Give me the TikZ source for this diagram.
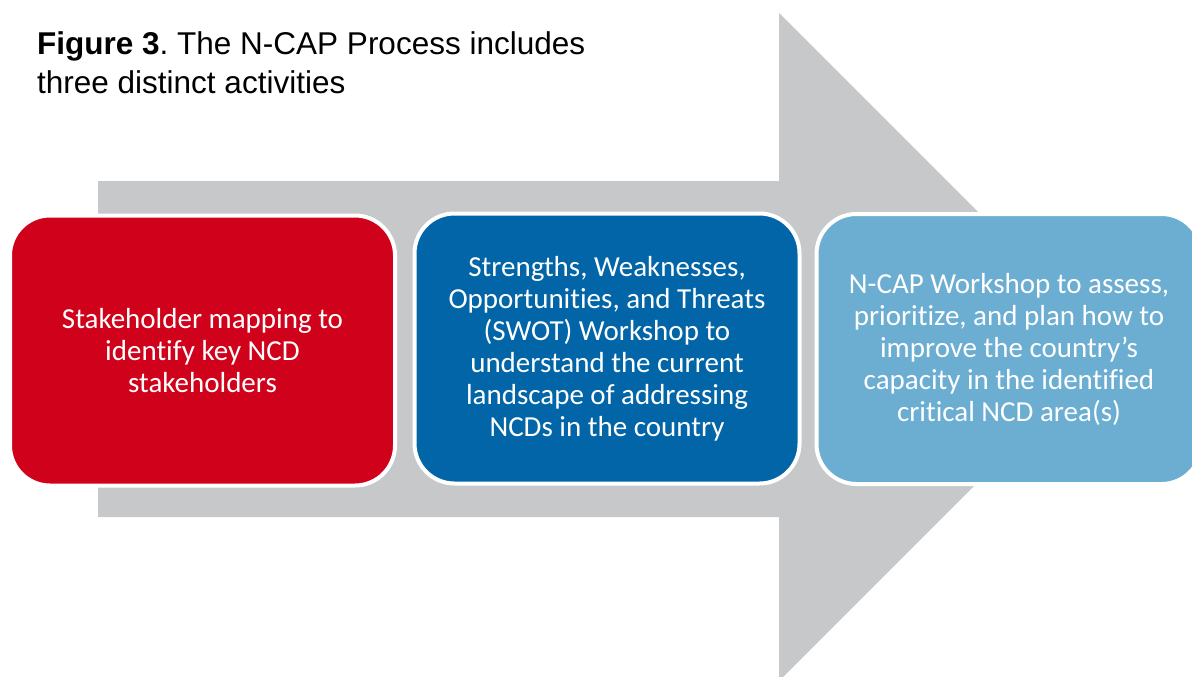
\documentclass[tikz,border=0pt]{standalone}
\usepackage{fontspec}
\setmainfont{Liberation Sans}
\newfontfamily\boxfont[Ligatures=CommonOff]{Carlito}
\definecolor{arrowgrey}{RGB}{199,200,202}
\definecolor{stepred}{RGB}{208,2,27}
\definecolor{stepblue}{RGB}{2,101,167}
\definecolor{steplight}{RGB}{107,174,210}
\frenchspacing
\begin{document}
\begin{tikzpicture}[x=1pt,y=-1pt,
  stagebox/.style={draw=white, line width=4pt, rounded corners=40pt,
    minimum width=385pt, minimum height=270pt, inner sep=0pt,
    align=center, text=white,
    font=\boxfont\fontsize{29}{32}\selectfont},
  titletext/.style={anchor=base west, inner sep=0pt,
    font=\fontsize{31.5}{37}\selectfont}]
  \useasboundingbox (0,0) rectangle (1192,677);
  \begin{scope}
    \clip (0,0) rectangle (1192,677);
    % big grey process arrow behind the three stages
    \fill[arrowgrey] (98,181) -- (779,181) -- (779,13) -- (1113,347)
      -- (779,681) -- (779,517) -- (98,517) -- cycle;
    % the three stages
    \node[stagebox, fill=stepred] (mapping) at (202.5,350.5)
      {Stakeholder mapping to\\identify key NCD\\stakeholders};
    \node[stagebox, fill=stepblue] (swot) at (607,348.5)
      {Strengths, Weaknesses,\\Opportunities, and Threats\\(SWOT) Workshop to\\understand the current\\landscape of addressing\\NCDs in the country};
    \node[stagebox, fill=steplight] (workshop) at (1009,349)
      {N-CAP Workshop to assess,\\prioritize, and plan how to\\improve the country’s\\capacity in the identified\\critical NCD area(s)};
  \end{scope}
  % caption
  \node[titletext] (title1) at (37,55) {\textbf{Figure 3}. The N-CAP Process includes};
  \node[titletext] (title2) at (37,93) {three distinct activities};
\end{tikzpicture}
\end{document}
